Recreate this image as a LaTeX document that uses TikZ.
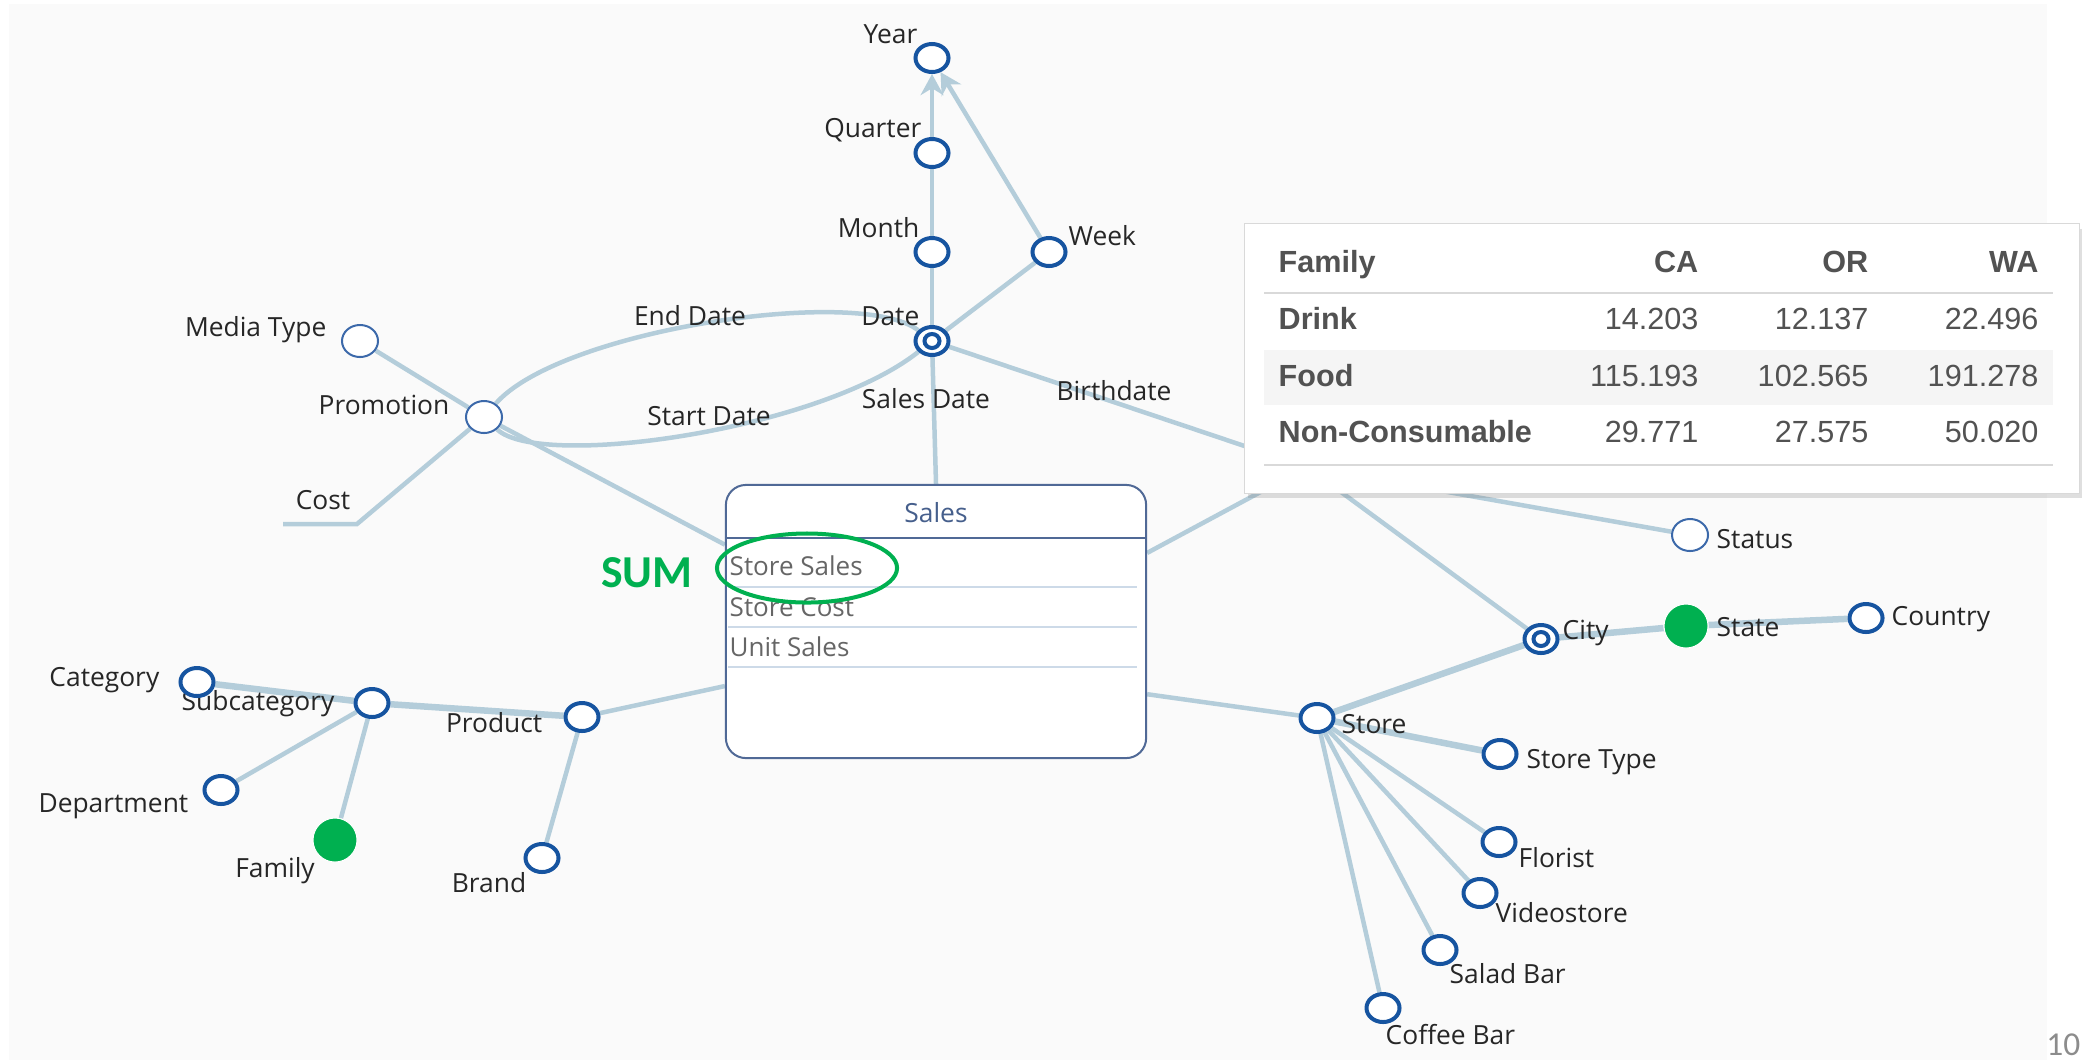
\documentclass[tikz,border=0pt]{standalone}
\usepackage{fontspec}
\setmainfont{Open Sans}
\newfontfamily\tabfont{Liberation Sans}
\newfontfamily\calfont{Carlito}
\usetikzlibrary{arrows.meta,shapes.geometric,shadows,backgrounds}

\definecolor{linkblue}{RGB}{180,205,218}
\definecolor{dimblue}{RGB}{22,84,160}
\definecolor{thinblue}{RGB}{60,105,170}
\definecolor{okgreen}{RGB}{0,176,80}
\definecolor{boxline}{RGB}{80,105,150}
\definecolor{rowline}{RGB}{205,218,232}
\definecolor{canvas}{RGB}{250,250,250}
\definecolor{titleblue}{RGB}{70,95,140}

\tikzset{
  lvl/.style={ellipse,draw=dimblue,line width=0.04cm,fill=white,minimum width=0.33cm,minimum height=0.28cm,inner sep=0pt},
  attr/.style={lvl,draw=thinblue,line width=0.02cm,minimum width=0.36cm,minimum height=0.32cm},
  dbl/.style={lvl,path picture={\draw[dimblue,line width=0.04cm] (path picture bounding box.center) ellipse [x radius=0.075cm,y radius=0.07cm];}},
  hit/.style={circle,fill=okgreen,draw=white,line width=0.01cm,minimum size=0.44cm,inner sep=0pt},
  lbl/.style={font=\fontsize{7.5}{9}\selectfont,text=black!85,inner sep=0pt,text height=5.4pt,text depth=0pt},
  row/.style={font=\fontsize{7.4}{9}\selectfont,text=black!60,inner sep=0pt,text height=5.3pt,text depth=0pt,anchor=west},
  tb/.style={font=\tabfont\fontsize{8.7}{10}\selectfont,text=black!68,inner sep=0pt,text height=6.2pt,text depth=0pt},
  link/.style={draw=linkblue,line width=0.045cm},
  strong/.style={link,line width=0.065cm},
  roll/.style={-{Stealth[length=6pt,width=6.5pt]}}
}

\begin{document}
\begin{tikzpicture}[x=0.01cm,y=-0.01cm]
\useasboundingbox (0,0) rectangle (2083,1060);

% labels
\node[lbl,anchor=east] (l-year) at (918,34) {Year};
\node[lbl,anchor=east] (l-quarter) at (922,128) {Quarter};
\node[lbl,anchor=east] (l-month) at (920,228) {Month};
\node[lbl,anchor=west] (l-week) at (1068,236) {Week};
\node[lbl,anchor=east] (l-date) at (920,316) {Date};
\node[lbl] (l-salesdate) at (926,399) {Sales Date};
\node[lbl] (l-birth) at (1114,391) {Birthdate};
\node[lbl] (l-end) at (690,316) {End Date};
\node[lbl] (l-start) at (709,416) {Start Date};
\node[lbl,anchor=east] (l-media) at (327,327) {Media Type};
\node[lbl,anchor=east] (l-promo) at (450,405) {Promotion};
\node[lbl] (l-cost) at (323,500) {Cost};
\node[lbl,anchor=east] (l-cat) at (160,677) {Category};
\node[lbl,anchor=east] (l-subcat) at (335,701) {Subcategory};
\node[lbl,anchor=east] (l-product) at (543,723) {Product};
\node[lbl,anchor=east] (l-dept) at (189,803) {Department};
\node[lbl] (l-family) at (275,868) {Family};
\node[lbl] (l-brand) at (489,883) {Brand};
\node[lbl,anchor=west] (l-status) at (1716,539) {Status};
\node[lbl,anchor=west] (l-city) at (1562,630) {City};
\node[lbl,anchor=west] (l-state) at (1716,627) {State};
\node[lbl,anchor=west] (l-country) at (1891,616) {Country};
\node[lbl,anchor=west] (l-store) at (1341,724) {Store};
\node[lbl,anchor=west] (l-stype) at (1526,759) {Store Type};
\node[lbl,anchor=west] (l-florist) at (1518,858) {Florist};
\node[lbl,anchor=west] (l-video) at (1495,913) {Videostore};
\node[lbl,anchor=west] (l-salad) at (1449,974) {Salad Bar};
\node[lbl,anchor=west] (l-coffee) at (1385,1035) {Coffee Bar};

% levels
\node[lvl] (year) at (932,58) {};
\node[lvl] (quarter) at (932,153) {};
\node[lvl] (month) at (932,252) {};
\node[lvl] (week) at (1049,252) {};
\node[dbl] (date) at (932,341) {};
\node[attr] (media) at (360,341) {};
\node[attr] (promo) at (484,417) {};
\node[lvl] (cat) at (197,682) {};
\node[lvl] (subcat) at (372,703) {};
\node[lvl] (product) at (582,717) {};
\node[lvl] (dept) at (221,790) {};
\node[hit] (family) at (335,840) {};
\node[lvl] (brand) at (542,858) {};
\node[attr] (status) at (1690,535) {};
\node[dbl] (city) at (1541,639) {};
\node[hit] (state) at (1686,626) {};
\node[lvl] (country) at (1866,618) {};
\node[lvl] (store) at (1317,718) {};
\node[lvl] (stype) at (1500,754) {};
\node[lvl] (florist) at (1499,842) {};
\node[lvl] (video) at (1480,893) {};
\node[lvl] (salad) at (1440,950) {};
\node[lvl] (coffee) at (1383,1008) {};
\coordinate (cust) at (1307,467);
\coordinate (costB) at (357,524);
\coordinate (costA) at (283,524);

% fact
\node[draw=boxline,line width=0.02cm,rounded corners=0.2cm,fill=white,minimum width=4.2cm,minimum height=2.73cm,inner sep=0pt] (sales) at (936,621.5) {};
\draw[boxline,line width=0.02cm] (sales.west |- 0,538) -- (sales.east |- 0,538);
\foreach \yy in {587,627,667}{\draw[rowline,line width=0.013cm] (728,\yy) -- (1137,\yy);}
\node[font=\fontsize{7.5}{9}\selectfont,text=titleblue,inner sep=0pt,text height=5.4pt,text depth=0pt] (stitle) at (936,513) {Sales};
\node[row] (ss) at (729,566) {Store Sales};
\node[row] (sc) at (729,607) {Store Cost};
\node[row] (us) at (729,647) {Unit Sales};

\begin{scope}[on background layer]
\fill[canvas] (9,4) rectangle (2047,1060);
\draw[link] (date) -- (month) -- (quarter);
\draw[link,roll] (quarter) -- (year);
\draw[link] (date) -- (week);
\draw[link,roll] (week) -- (year);
\draw[link] (date) -- (sales.north);
\draw[link] (date) -- (cust);
\draw[link] (promo) .. controls (560,330) and (860,285) .. (date);
\draw[link] (promo) .. controls (540,470) and (820,430) .. (date);
\draw[link] (promo) -- (media);
\draw[link] (promo) -- (costB) -- (costA);
\draw[link] (promo) -- (sales.160.5);
\draw[strong] (cat) -- (subcat) -- (product);
\draw[link] (subcat) -- (dept);
\draw[link] (subcat) -- (family);
\draw[link] (product) -- (brand);
\draw[link] (product) -- (sales.197.6);
\draw[link] (sales.18.2) -- (cust);
\draw[link] (cust) -- (status);
\draw[link] (cust) -- (city);
\draw[strong] (city) -- (state) -- (country);
\draw[link] (sales.341.9) -- (store);
\draw[strong] (store) -- (city);
\draw[strong] (store) -- (stype);
\foreach \n in {florist,video,salad,coffee}{\draw[link] (store) -- (\n);}
\end{scope}

% result table
\node[draw=black!15,line width=0.01cm,fill=white,minimum width=8.34cm,minimum height=2.69cm,inner sep=0pt,drop shadow={shadow xshift=0.03cm,shadow yshift=-0.05cm,opacity=0.25}] (tbl) at (1662,358.5) {};
\fill[black!4] (1264,350) rectangle (2053,405);
\draw[black!15,line width=0.025cm] (1264,293) -- (2053,293);
\draw[black!15,line width=0.025cm] (1264,465) -- (2053,465);
\node[tb,font=\tabfont\bfseries\fontsize{8.7}{10}\selectfont,anchor=west] (h-fam) at (1278,262) {Family};
\node[tb,font=\tabfont\bfseries\fontsize{8.7}{10}\selectfont,anchor=east] (h-ca) at (1699,262) {CA};
\node[tb,font=\tabfont\bfseries\fontsize{8.7}{10}\selectfont,anchor=east] (h-or) at (1869,262) {OR};
\node[tb,font=\tabfont\bfseries\fontsize{8.7}{10}\selectfont,anchor=east] (h-wa) at (2039,262) {WA};
\foreach \fam/\xa/\xb/\xc/\yy in {Drink/14.203/12.137/22.496/319,Food/115.193/102.565/191.278/376,Non-Consumable/29.771/27.575/50.020/432}{
  \node[tb,font=\tabfont\bfseries\fontsize{8.7}{10}\selectfont,anchor=west] (f-\yy) at (1278,\yy) {\fam};
  \node[tb,anchor=east] (ca-\yy) at (1699,\yy) {\xa};
  \node[tb,anchor=east] (or-\yy) at (1869,\yy) {\xb};
  \node[tb,anchor=east] (wa-\yy) at (2039,\yy) {\xc};
}

% marks
\node[font=\calfont\bfseries\fontsize{13}{15}\selectfont,text=okgreen,inner sep=0pt] (sum) at (647,573) {SUM};
\node[ellipse,draw=okgreen,line width=0.04cm,minimum width=1.80cm,minimum height=0.69cm,inner sep=0pt] (ring) at (807,568) {};
\node[font=\calfont\fontsize{9.5}{11}\selectfont,text=black!45,anchor=east,inner sep=0pt] (pagenum) at (2081,1045) {10};
\end{tikzpicture}
\end{document}
